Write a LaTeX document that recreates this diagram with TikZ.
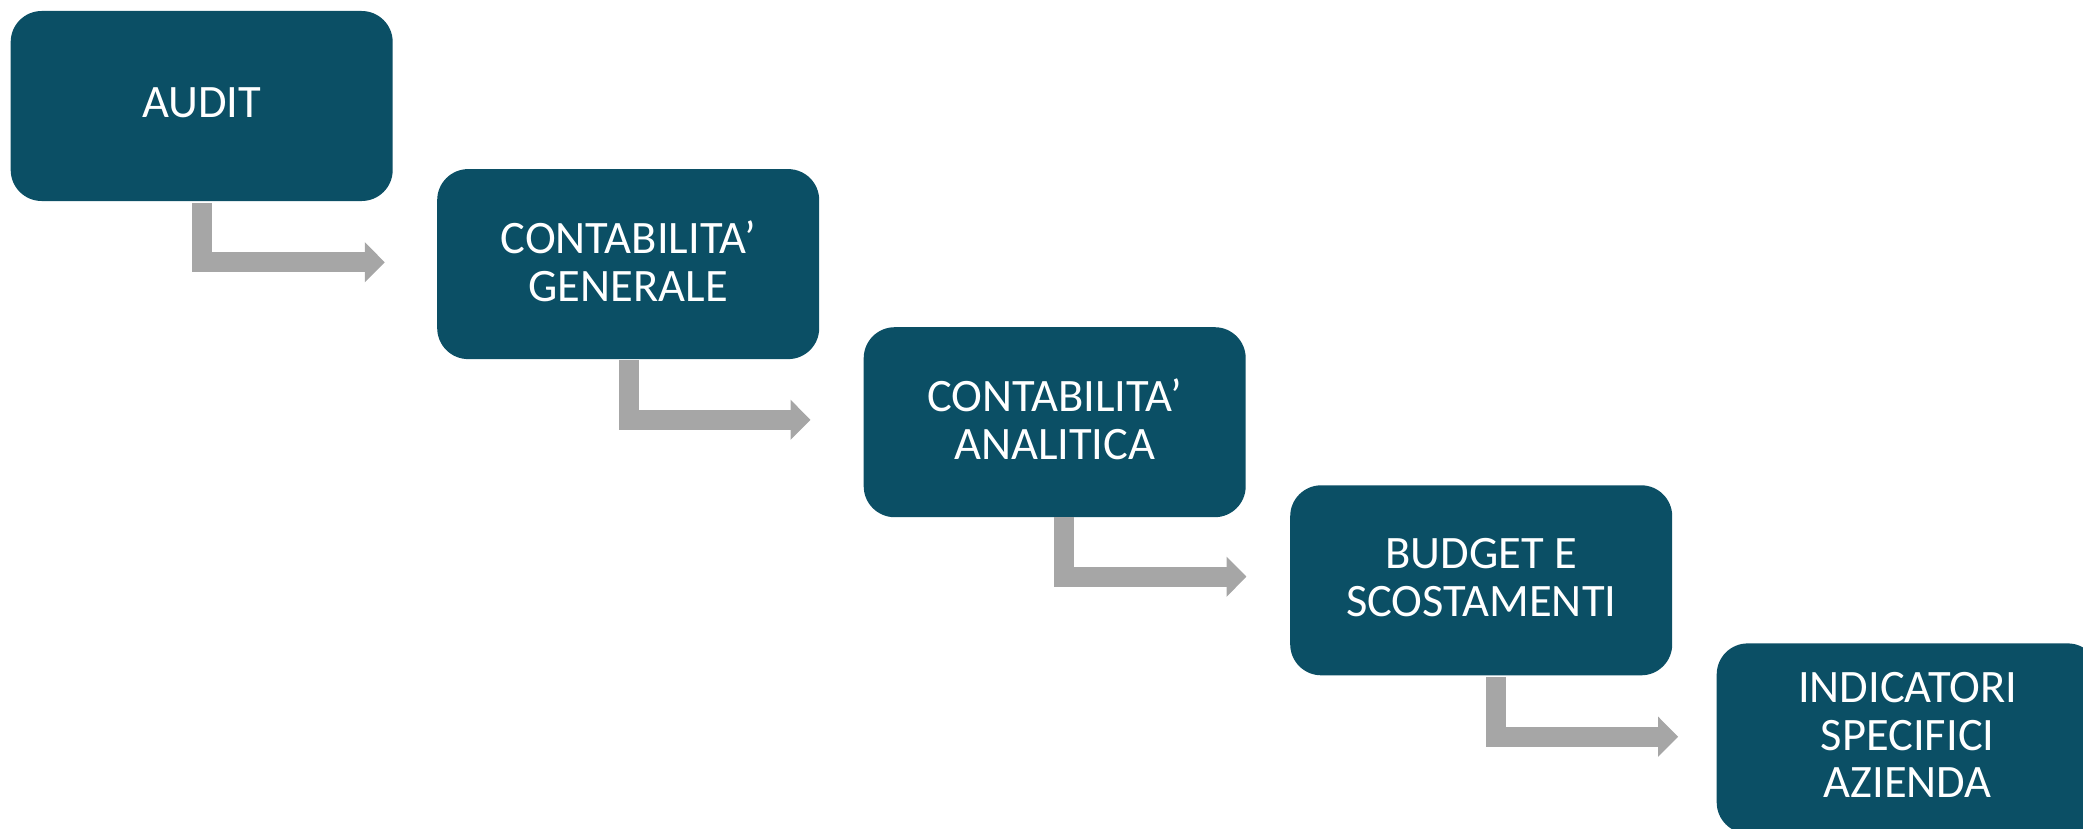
\documentclass[tikz,border=0pt]{standalone}
\usepackage{fontspec}
\setmainfont{Carlito}
\usetikzlibrary{arrows.meta,calc}
\definecolor{boxteal}{RGB}{11,79,101}
\definecolor{flowgrey}{RGB}{166,166,166}
\tikzset{
  stepbox/.style={fill=boxteal, draw=none, rounded corners=31bp,
    minimum width=382bp, minimum height=190bp, inner sep=0pt,
    text=white, align=center, text depth=6bp,
    font=\fontsize{46.5bp}{47.5bp}\selectfont},
  elbow/.style={draw=flowgrey, line width=20bp, line join=miter,
    -{Triangle[length=20bp,width=39bp]}}
}
\begin{document}
\begin{tikzpicture}[x=1bp,y=-1bp]
  \useasboundingbox (0,0) rectangle (2083,829);
  \clip (0,0) rectangle (2083,829);
  % five steps, each shifted down and to the right
  \node[stepbox] (b1) at (201.7,106.0) {AUDIT};
  \node[stepbox] (b2) at (628.2,264.1) {CONTABILITA’\\GENERALE};
  \node[stepbox] (b3) at (1054.7,422.2) {CONTABILITA’\\ANALITICA};
  \node[stepbox] (b4) at (1481.2,580.3) {BUDGET E\\SCOSTAMENTI};
  \node[stepbox] (b5) at (1907.7,738.4) {INDICATORI\\SPECIFICI\\AZIENDA};
  % elbow arrows between consecutive steps:
  % source/target, start shift, top gap, tip gap, shaft rise
  \foreach \a/\b/\sx/\sy/\tx/\ty in {b1/b2/0.5/1.7/-52.2/-1.8,
                                     b2/b3/0.6/0.9/-53/-2.4,
                                     b3/b4/9.6/0/-43.5/-3.6,
                                     b4/b5/14.6/1.4/-38.4/-1.7}{
    \coordinate (s-\a) at ($(\a.south)+(\sx,\sy)$);
    \coordinate (t-\a) at ($(\b.west)+(\tx,\ty)$);
    \draw[elbow] (s-\a) |- (t-\a);
  }
\end{tikzpicture}
\end{document}
